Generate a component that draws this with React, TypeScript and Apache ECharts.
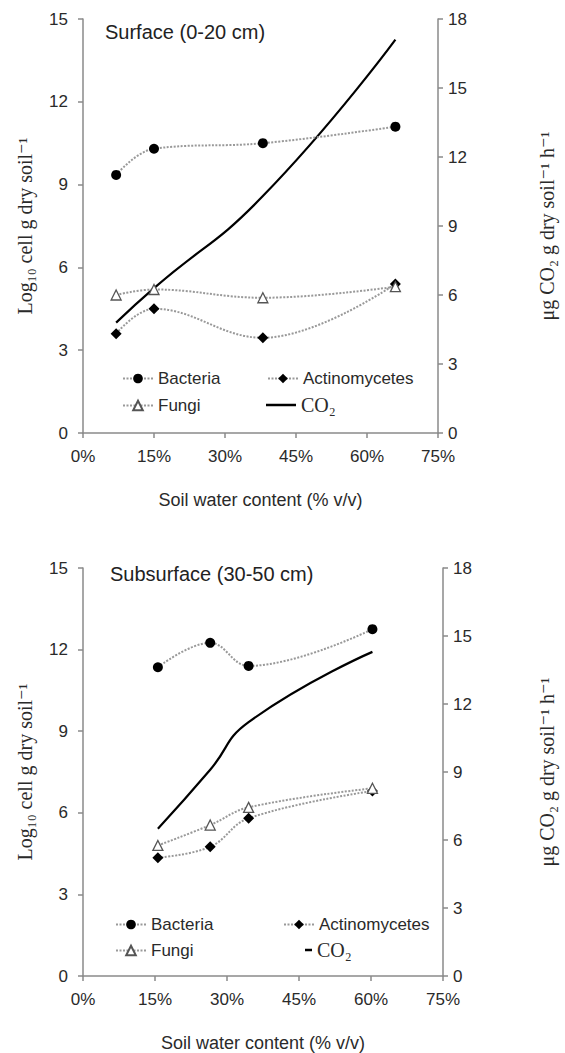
import React, { useEffect, useRef } from "react";
import * as echarts from "echarts";

// ---- data ----
const xTickInterval = 15;
const xMin = 0;
const xMax = 75;
const leftMax = 15;
const rightMax = 18;
const yInterval = 3;

const surfaceX = [7, 15, 38, 66];
const surfaceBacteria = [9.35, 10.3, 10.5, 11.1];
const surfaceActinomycetes = [3.6, 4.5, 3.45, 5.4];
const surfaceFungi = [5.0, 5.2, 4.9, 5.3];
const surfaceCO2 = [4.8, 6.3, 10.3, 17.1];

const subsurfaceX = [15.6, 26.5, 34.5, 60.3];
const subsurfaceBacteria = [11.35, 12.25, 11.4, 12.75];
const subsurfaceActinomycetes = [4.35, 4.75, 5.8, 6.8];
const subsurfaceFungi = [4.8, 5.55, 6.2, 6.9];
const subsurfaceCO2 = [6.5, 9.1, 11.2, 14.3];

const titles = ["Surface (0-20 cm)", "Subsurface (30-50 cm)"];
const xName = "Soil water content (% v/v)";
const leftName = "Log\u2081\u2080 cell g dry soil\u207B\u00B9";
const rightName = "\u03BCg CO\u2082 g dry soil\u207B\u00B9 h\u207B\u00B9";
const names = ["Bacteria", "Actinomycetes", "Fungi", "CO\u2082"];

const pairs = (xs: number[], ys: number[]) => xs.map((x, i) => [x, ys[i]]);

const AXIS_COLOR = "#8a8a8a";
const LABEL_COLOR = "#2a2a2a";
const SANS = "Liberation Sans, Arial, sans-serif";
const SERIF = "Liberation Serif, Times New Roman, DejaVu Serif, serif";

export default function App() {
  const ref = useRef<HTMLDivElement>(null);
  useEffect(() => {
    document.body.style.margin = "0";
    if (!ref.current) return;
    const chart = echarts.init(ref.current, null, { renderer: "svg" });

    const xAxisCommon = (gridIndex: number) => ({
      type: "value",
      gridIndex,
      min: xMin,
      max: xMax,
      interval: xTickInterval,
      name: xName,
      nameLocation: "middle",
      nameGap: 58,
      nameTextStyle: { fontFamily: SANS, fontSize: 18, color: LABEL_COLOR },
      axisLine: { show: true, lineStyle: { color: AXIS_COLOR, width: 1.5 } },
      axisTick: { show: true, length: 5, lineStyle: { color: AXIS_COLOR, width: 1.5 } },
      axisLabel: {
        formatter: "{value}%",
        fontFamily: SANS,
        fontSize: 17,
        color: LABEL_COLOR,
        margin: 15,
      },
      splitLine: { show: false },
    });

    const yAxisCommon = (
      gridIndex: number,
      position: string,
      max: number,
      name: string,
      nameGap: number
    ) => ({
      type: "value",
      gridIndex,
      position,
      min: 0,
      max,
      interval: yInterval,
      name,
      nameLocation: "middle",
      nameRotate: 90,
      nameGap,
      nameTextStyle: { fontFamily: SERIF, fontSize: 20, color: LABEL_COLOR },
      axisLine: { show: true, lineStyle: { color: AXIS_COLOR, width: 1.5 } },
      axisTick: { show: true, length: 5, lineStyle: { color: AXIS_COLOR, width: 1.5 } },
      axisLabel: {
        fontFamily: SANS,
        fontSize: 17,
        color: LABEL_COLOR,
        margin: position === "left" ? 15 : 10,
      },
      splitLine: { show: false },
    });

    const dotted = { color: "#999999", width: 2, type: [2, 1.5] };

    const makeSeries = (
      xi: number,
      yl: number,
      yr: number,
      xs: number[],
      b: number[],
      a: number[],
      f: number[],
      c: number[]
    ) => [
      {
        name: names[0],
        type: "line",
        xAxisIndex: xi,
        yAxisIndex: yl,
        data: pairs(xs, b),
        smooth: 0.4,
        symbol: "circle",
        symbolSize: 10,
        itemStyle: { color: "#000" },
        lineStyle: dotted,
        z: 3,
      },
      {
        name: names[1],
        type: "line",
        xAxisIndex: xi,
        yAxisIndex: yl,
        data: pairs(xs, a),
        smooth: 0.4,
        symbol: "diamond",
        symbolSize: 11,
        itemStyle: { color: "#000" },
        lineStyle: dotted,
        z: 3,
      },
      {
        name: names[2],
        type: "line",
        xAxisIndex: xi,
        yAxisIndex: yl,
        data: pairs(xs, f),
        smooth: 0.4,
        symbol: "triangle",
        symbolSize: 10,
        itemStyle: { color: "#fff", borderColor: "#555", borderWidth: 1.3 },
        lineStyle: dotted,
        z: 3,
      },
      {
        name: names[3],
        type: "line",
        xAxisIndex: xi,
        yAxisIndex: yr,
        data: pairs(xs, c),
        smooth: 0.5,
        showSymbol: false,
        symbol: "none",
        itemStyle: { color: "#000" },
        lineStyle: { color: "#000", width: 2.2 },
        z: 2,
      },
    ];

    const legendItem = (
      name: string,
      left: number,
      top: number,
      extra: any = {}
    ) => ({
      data: [name],
      left,
      top,
      padding: 0,
      orient: "horizontal",
      selectedMode: false,
      itemWidth: 30,
      itemHeight: 12,
      textStyle: { fontFamily: SANS, fontSize: 17, color: LABEL_COLOR },
      ...extra,
    });

    const co2Legend = {
      icon: "rect",
      itemHeight: 2.5,
      textStyle: { fontFamily: SERIF, fontSize: 20, color: LABEL_COLOR },
    };

    chart.setOption({
      animation: false,
      backgroundColor: "#ffffff",
      title: [
        {
          text: titles[0],
          left: 105,
          top: 22,
          padding: 0,
          textStyle: { fontFamily: SANS, fontSize: 20, fontWeight: "normal", color: "#222" },
        },
        {
          text: titles[1],
          left: 110,
          top: 564,
          padding: 0,
          textStyle: { fontFamily: SANS, fontSize: 20, fontWeight: "normal", color: "#222" },
        },
      ],
      grid: [
        { left: 83, top: 19, width: 360, height: 414 },
        { left: 83, top: 568, width: 365, height: 409 },
      ],
      xAxis: [xAxisCommon(0), xAxisCommon(1)],
      yAxis: [
        yAxisCommon(0, "left", leftMax, leftName, 48),
        yAxisCommon(0, "right", rightMax, rightName, 99),
        yAxisCommon(1, "left", leftMax, leftName, 48),
        yAxisCommon(1, "right", rightMax, rightName, 94),
      ],
      legend: [
        legendItem(names[0], 122, 370),
        legendItem(names[1], 267, 370),
        legendItem(names[2], 122, 397),
        legendItem(names[3], 266, 395, co2Legend),
        legendItem(names[0], 115, 916),
        legendItem(names[1], 283, 916),
        legendItem(names[2], 115, 942),
        legendItem(names[3], 305, 940, { ...co2Legend, itemWidth: 7 }),
      ],
      series: [
        ...makeSeries(0, 0, 1, surfaceX, surfaceBacteria, surfaceActinomycetes, surfaceFungi, surfaceCO2),
        ...makeSeries(1, 2, 3, subsurfaceX, subsurfaceBacteria, subsurfaceActinomycetes, subsurfaceFungi, subsurfaceCO2),
      ],
    });

    return () => chart.dispose();
  }, []);

  return <div ref={ref} style={{ width: 565, height: 1053 }} />;
}
